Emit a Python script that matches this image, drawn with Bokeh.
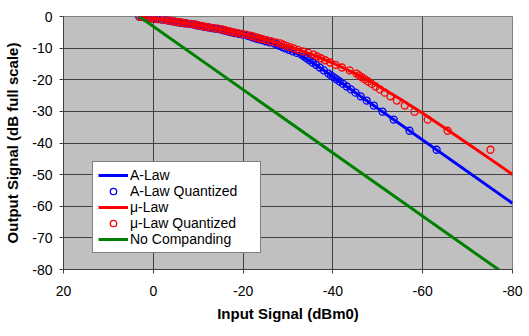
from bokeh.plotting import figure
from bokeh.models import Range1d, FixedTicker
from bokeh.embed import file_html
from bokeh.resources import INLINE

# ---- data ----
x_ticks = [20, 0, -20, -40, -60, -80]
y_ticks = [0, -10, -20, -30, -40, -50, -60, -70, -80]

# A-Law characteristic
alaw_x = [3.14, 0, -2.5, -5, -7.5, -10, -12.5, -15, -17.5, -20, -22.5, -25,
          -27.5, -30, -32.5, -35.71, -80]
alaw_y = [0.0, -0.59, -1.10, -1.63, -2.20, -2.81, -3.47, -4.18, -4.95, -5.80,
          -6.73, -7.79, -8.99, -10.38, -12.03, -14.76, -59.05]

# mu-Law characteristic
mulaw_x = [3.14, 0, -5, -10, -15, -20, -25, -30, -35, -40, -45, -50, -55,
           -60, -65, -70, -75, -80]
mulaw_y = [0.0, -0.58, -1.60, -2.74, -4.04, -5.54, -7.29, -9.35, -11.80,
           -14.70, -18.07, -21.90, -26.11, -30.61, -35.30, -40.13, -45.02, -49.96]

# quantized output levels (shared by both laws)
quant_y = [-42.14, -36.12, -32.60, -30.10, -28.16, -26.58, -25.24, -24.08,
           -23.06, -22.14, -21.31, -20.56, -19.86, -19.22, -18.62, -18.06,
           -17.03, -16.12, -15.29, -14.54, -13.84, -13.20, -12.60, -12.04,
           -11.51, -11.01, -10.54, -10.10, -9.68, -9.27, -8.88, -8.52,
           -8.16, -7.82, -7.49, -7.18, -6.87, -6.58, -6.29, -6.02,
           -5.75, -5.49, -5.24, -4.99, -4.76, -4.52, -4.30, -4.08,
           -3.86, -3.65, -3.45, -3.25, -3.06, -2.86, -2.68, -2.49,
           -2.32, -2.14, -1.97, -1.80, -1.63, -1.47, -1.31, -1.16,
           -1.00, -0.85, -0.70, -0.56, -0.41, -0.27, -0.13, 0.00]

alawq_x = [-63.09, -57.07, -53.55, -51.05, -49.11, -47.53, -46.19, -45.03,
           -44.01, -43.09, -42.26, -41.51, -40.81, -40.17, -39.57, -39.01,
           -37.98, -37.07, -36.24, -35.49, -34.79, -34.15, -33.55, -32.99,
           -31.96, -31.05, -30.22, -29.46, -28.77, -28.13, -27.53, -26.97,
           -25.94, -25.03, -24.20, -23.44, -22.75, -22.11, -21.51, -20.95,
           -19.92, -19.01, -18.18, -17.42, -16.73, -16.08, -15.49, -14.92,
           -13.90, -12.99, -12.16, -11.40, -10.71, -10.06, -9.46, -8.90,
           -7.88, -6.97, -6.14, -5.38, -4.69, -4.04, -3.44, -2.88,
           -1.86, -0.95, -0.12, 0.64, 1.33, 1.98, 2.58, 3.14]

mulawq_x = [-75.09, -65.55, -61.11, -58.19, -56.01, -54.26, -52.81, -51.57,
            -50.48, -49.51, -48.65, -47.86, -47.13, -46.46, -45.84, -45.26,
            -43.73, -42.03, -40.60, -39.38, -38.31, -37.36, -36.50, -35.72,
            -34.50, -33.29, -32.23, -31.28, -30.43, -29.65, -28.94, -28.28,
            -27.24, -26.18, -25.23, -24.38, -23.61, -22.90, -22.24, -21.63,
            -20.65, -19.66, -18.77, -17.96, -17.21, -16.53, -15.90, -15.31,
            -14.36, -13.40, -12.53, -11.74, -11.01, -10.34, -9.72, -9.14,
            -8.21, -7.26, -6.40, -5.62, -4.90, -4.24, -3.63, -3.05,
            -2.13, -1.18, -0.33, 0.45, 1.16, 1.82, 2.43, 3.01]

# no companding: straight line
nocomp_x = [3.14, -80.0]
nocomp_y = [0.0, -83.14]

FONT = "Liberation Sans"

p = figure(width=529, height=336, output_backend="svg", toolbar_location=None,
           x_range=Range1d(20, -80), y_range=Range1d(-80, 0),
           min_border_left=63, min_border_right=17, min_border_top=16,
           min_border_bottom=67)

p.background_fill_color = "#C0C0C0"
p.border_fill_color = "white"
p.outline_line_color = "#808080"
p.outline_line_width = 1

p.line(alaw_x, alaw_y, line_color="#0000FF", line_width=3, legend_label="A-Law")
p.scatter(alawq_x, quant_y, marker="circle", size=7, fill_color=None,
          line_color="#0000FF", line_width=1.3, legend_label="A-Law Quantized")
p.line(mulaw_x, mulaw_y, line_color="#FF0000", line_width=3, legend_label="μ-Law")
p.scatter(mulawq_x, quant_y, marker="circle", size=7, fill_color=None,
          line_color="#FF0000", line_width=1.3, legend_label="μ-Law Quantized")
p.line(nocomp_x, nocomp_y, line_color="#008000", line_width=3,
       legend_label="No Companding")

for ax in (p.xaxis, p.yaxis):
    ax.major_label_text_font = FONT
    ax.major_label_text_font_size = "14px"
    ax.major_label_text_color = "black"
    ax.axis_label_text_font = FONT
    ax.axis_label_text_font_size = "15px"
    ax.axis_label_text_font_style = "bold"
    ax.axis_label_text_color = "black"
    ax.axis_line_color = "#404040"
    ax.major_tick_line_color = "#404040"
    ax.major_tick_out = 4
    ax.major_tick_in = 0
    ax.minor_tick_line_color = None

p.xaxis.ticker = FixedTicker(ticks=x_ticks)
p.yaxis.ticker = FixedTicker(ticks=y_ticks)
p.xaxis.major_label_overrides = {t: str(t) for t in x_ticks}
p.yaxis.major_label_overrides = {t: str(t) for t in y_ticks}
p.xaxis.axis_label = "Input Signal (dBm0)"
p.yaxis.axis_label = "Output Signal (dB full scale)"
p.xaxis.major_label_standoff = 12
p.yaxis.major_label_standoff = 7
p.xaxis.axis_label_standoff = 6
p.yaxis.axis_label_standoff = 8

p.xgrid.grid_line_color = "#404040"
p.ygrid.grid_line_color = "#404040"
p.xgrid.grid_line_width = 1
p.ygrid.grid_line_width = 1

lg = p.legend[0]
lg.location = (29, 16)
lg.label_text_font = FONT
lg.label_text_font_size = "14px"
lg.label_text_color = "black"
lg.glyph_width = 30
lg.glyph_height = 16
lg.label_height = 16
lg.label_width = 125
lg.label_standoff = 2
lg.spacing = 0
lg.padding = 5
lg.margin = 0
lg.border_line_color = "black"
lg.border_line_width = 1
lg.background_fill_color = "white"
lg.background_fill_alpha = 1.0

open("out.html", "w").write(file_html(p, INLINE))
